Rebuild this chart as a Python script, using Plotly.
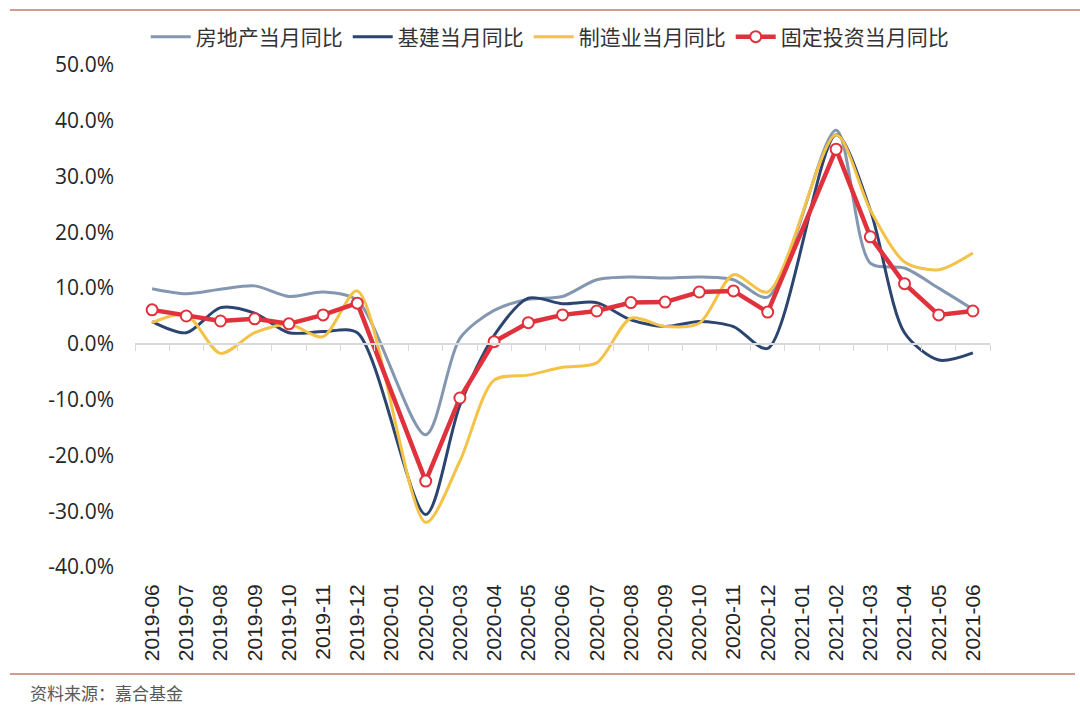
import plotly.graph_objects as go

months = ["2019-06", "2019-07", "2019-08", "2019-09", "2019-10", "2019-11", "2019-12",
          "2020-01", "2020-02", "2020-03", "2020-04", "2020-05", "2020-06", "2020-07",
          "2020-08", "2020-09", "2020-10", "2020-11", "2020-12", "2021-01", "2021-02",
          "2021-03", "2021-04", "2021-05", "2021-06"]

# values in %, January months not published (Jan-Feb combined)
real_estate = [9.9, 9.0, 9.8, 10.4, 8.5, 9.3, 7.8,
               None, -16.3, 1.0, 6.0, 8.0, 8.5, 11.5,
               12.0, 11.8, 12.0, 11.5, 8.4, None, 38.3,
               14.5, 13.6, 10.0, 6.2]
infrastructure = [4.0, 2.0, 6.5, 5.5, 2.0, 2.2, 2.0,
                  None, -30.6, -11.0, 1.5, 8.2, 7.2, 7.4,
                  4.3, 3.1, 4.0, 3.1, -0.8, None, 37.5,
                  24.0, 2.0, -2.9, -1.6]
manufacturing = [3.8, 5.2, -1.7, 2.0, 3.5, 1.3, 9.5,
                 None, -32.0, -21.0, -6.5, -5.6, -4.2, -3.4,
                 4.6, 3.1, 3.7, 12.4, 9.3, None, 37.5,
                 24.0, 14.7, 13.3, 16.3]
fixed_invest = [6.1, 5.0, 4.1, 4.5, 3.6, 5.2, 7.3,
                None, -24.6, -9.7, 0.4, 3.8, 5.2, 5.9,
                7.4, 7.5, 9.3, 9.5, 5.7, None, 34.9,
                19.2, 10.8, 5.2, 5.9]

names = ["房地产当月同比", "基建当月同比", "制造业当月同比", "固定投资当月同比"]
y_ticks = [-40, -30, -20, -10, 0, 10, 20, 30, 40, 50]

fig = go.Figure()
fig.add_trace(go.Scatter(x=months, y=real_estate, name=names[0], mode="lines",
                         line=dict(color="#8497B0", width=3, shape="spline", smoothing=0.8),
                         connectgaps=True))
fig.add_trace(go.Scatter(x=months, y=infrastructure, name=names[1], mode="lines",
                         line=dict(color="#2C4470", width=3, shape="spline", smoothing=0.8),
                         connectgaps=True))
fig.add_trace(go.Scatter(x=months, y=manufacturing, name=names[2], mode="lines",
                         line=dict(color="#F4C247", width=3, shape="spline", smoothing=0.8),
                         connectgaps=True))
fig.add_trace(go.Scatter(x=months, y=fixed_invest, name=names[3], mode="lines+markers",
                         line=dict(color="#E0323C", width=4.5),
                         marker=dict(size=11, color="white", line=dict(color="#E0323C", width=2)),
                         connectgaps=True))
# helper trace for the zero-line axis with tick marks
fig.add_trace(go.Scatter(x=months, y=[None] * len(months), xaxis="x2", showlegend=False,
                         hoverinfo="skip", mode="lines"))

W, H = 1080, 705
L, R, T, B = 135, 990, 65, 567
pw, ph = R - L, B - T

def px_x(X):
    return (X - L) / pw

def px_y(Y):
    return (B - Y) / ph

fig.update_layout(
    width=W, height=H,
    margin=dict(l=L, r=W - R, t=T, b=H - B, autoexpand=False),
    paper_bgcolor="white", plot_bgcolor="white",
    font=dict(family="Liberation Sans, Arial", color="#262626"),
    xaxis=dict(type="category", categoryorder="array", categoryarray=months,
               range=[-0.5, len(months) - 0.5], showline=False, showgrid=False,
               zeroline=False, ticks="", tickangle=-90, automargin=False,
               tickfont=dict(family="Liberation Sans, Arial", size=21, color="#262626"),
               ticklabelstandoff=12),
    xaxis2=dict(type="category", categoryorder="array", categoryarray=months,
                range=[-0.5, len(months) - 0.5], overlaying="x", anchor="free",
                position=40 / 90, showline=True, linecolor="#D9D9D9", linewidth=1.5,
                ticks="outside", tickson="boundaries", ticklen=6, tickcolor="#D9D9D9",
                tickwidth=1.2, showticklabels=False, showgrid=False, zeroline=False,
                automargin=False),
    yaxis=dict(range=[-40, 50], tickvals=y_ticks,
               ticktext=[f"{v:.1f}%" for v in y_ticks],
               showgrid=False, zeroline=False, showline=False, ticks="", automargin=False,
               tickfont=dict(family="Open Sans, Noto Sans", size=21, color="#262626"),
               ticklabelstandoff=20),
    legend=dict(orientation="h", xref="container", yref="container",
                x=0.509, xanchor="center", y=1 - 37 / H, yanchor="middle",
                font=dict(family="Noto Sans CJK SC", size=21, color="#333333"),
                itemwidth=40, tracegroupgap=0, bgcolor="rgba(0,0,0,0)"),
    showlegend=True,
)

line_col = "#C9776B"
fig.add_shape(type="line", xref="paper", yref="paper",
              x0=px_x(10), x1=px_x(1080), y0=px_y(10), y1=px_y(10),
              line=dict(color=line_col, width=1.5))
fig.add_shape(type="line", xref="paper", yref="paper",
              x0=px_x(10), x1=px_x(1075), y0=px_y(674), y1=px_y(674),
              line=dict(color=line_col, width=1.5))
fig.add_annotation(text="资料来源：嘉合基金", xref="paper", yref="paper",
                   x=px_x(28), y=px_y(692), xanchor="left", yanchor="middle",
                   showarrow=False,
                   font=dict(family="Noto Sans CJK SC", size=17, color="#595959"))

fig.write_html("out.html", config={"displayModeBar": False},
               post_script="document.body.style.margin='0';document.body.style.padding='0';")
